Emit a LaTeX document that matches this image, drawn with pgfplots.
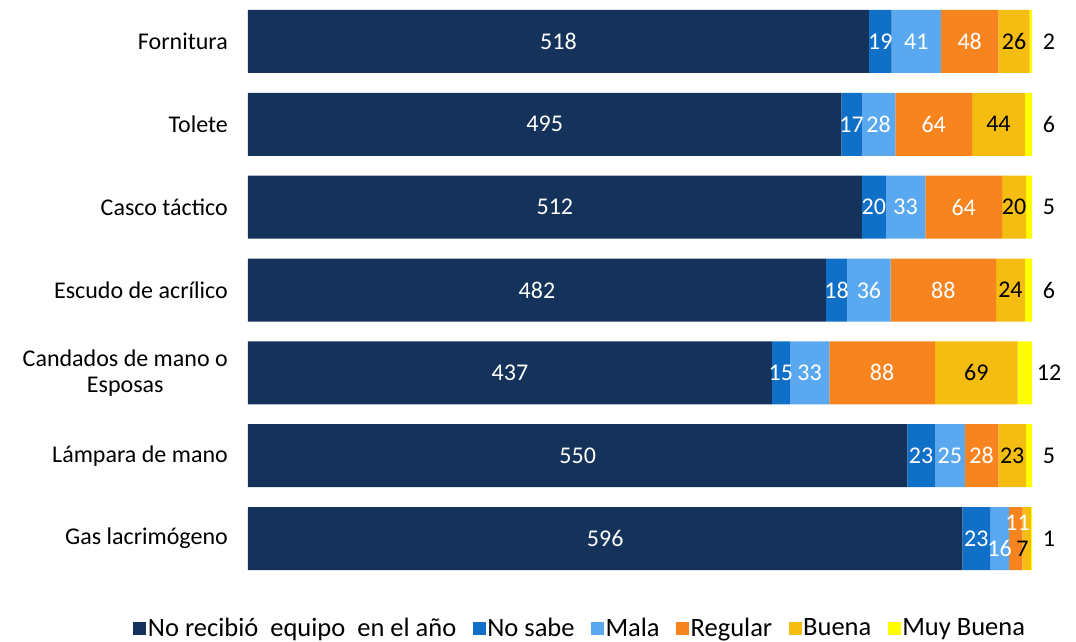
\documentclass[border=0pt]{standalone}
\usepackage{fontspec}
\setmainfont{Carlito}
\usepackage{pgfplots}
\usepackage{pgfplotstable}
\pgfplotsset{compat=1.18}
\definecolor{cA}{HTML}{15325A}
\definecolor{cB}{HTML}{1070C8}
\definecolor{cC}{HTML}{5AA9F0}
\definecolor{cD}{HTML}{F8841F}
\definecolor{cE}{HTML}{F5BC12}
\definecolor{cF}{HTML}{FFFF00}
\pgfplotsset{
  common/.style={
    scale only axis, width=784pt, height=580pt,
    at={(0pt,0pt)}, anchor=south west,
    xmin=0, xmax=654, ymin=-0.5, ymax=6.5, y dir=reverse,
    enlargelimits=false, clip=false,
  },
  lab/.style={draw=none, mark=none, nodes near coords,
    point meta=explicit symbolic,
    visualization depends on={\thisrow{dy} \as \dy},
    every node near coord/.append style={anchor=center, yshift=\dy pt, inner sep=0pt}},
}
\pgfplotstableread{
y x v dy
0 259 518 0
1 247.5 495 0
2 256 512 0
3 241 482 0
4 218.5 437 0
5 275 550 0
6 298 596 0
}\labA
\pgfplotstableread{
y x v dy
0 527.5 19 0
1 503.5 17 0
2 522 20 0
3 491 18 0
4 444.5 15 0
5 561.5 23 0
6 607.5 23 0
}\labB
\pgfplotstableread{
y x v dy
0 557.5 41 0
1 526 28 0
2 548.5 33 0
3 518 36 0
4 468.5 33 0
5 585.5 25 0
6 627 16 -10
}\labC
\pgfplotstableread{
y x v dy
0 602 48 0
1 572 64 0
2 597 64 0
3 580 88 0
4 529 88 0
5 612 28 0
6 642 11 16
}\labD
\pgfplotstableread{
y x v dy
0 639 26 0
1 626 44 0
2 639 20 0
3 636 24 0
4 607.5 69 0
5 637.5 23 0
6 646 7 -10
}\labE
\pgfplotstableread{
y x v dy
0 654 2 0
1 654 6 0
2 654 5 0
3 654 6 0
4 654 12 0
5 654 5 0
6 654 1 0
}\labF
\begin{document}
\begin{tikzpicture}[font=\fontsize{24}{26}\selectfont]
\path[use as bounding box] (-248pt,-62pt) rectangle (828pt,580pt);
\begin{axis}[common,
  xbar stacked, bar width=63pt,
  every axis plot post/.append style={legend image code/.code={\fill[##1] (0pt,-7pt) rectangle (13pt,6pt);}},
  axis line style={draw=none}, tick style={draw=none},
  xtick=\empty, ytick={0,...,6},
  yticklabels={Fornitura, Tolete, Casco táctico, Escudo de acrílico, {Candados de mano o\\Esposas}, Lámpara de mano, Gas lacrimógeno},
  yticklabel style={align=center, inner sep=0pt, xshift=-20pt},
  legend columns=6,
  legend style={draw=none, at={(0.4235,-0.083)}, anchor=center, inner sep=0pt,
    font=\fontsize{26.5}{28}\selectfont,
    /tikz/every even column/.append style={column sep=15pt},
    nodes={inner sep=1.5pt}},
  legend cell align=left,
]
\addplot[fill=cA, draw=none] coordinates {(518,0) (495,1) (512,2) (482,3) (437,4) (550,5) (596,6)};
\addplot[fill=cB, draw=none] coordinates {(19,0) (17,1) (20,2) (18,3) (15,4) (23,5) (23,6)};
\addplot[fill=cC, draw=none] coordinates {(41,0) (28,1) (33,2) (36,3) (33,4) (25,5) (16,6)};
\addplot[fill=cD, draw=none] coordinates {(48,0) (64,1) (64,2) (88,3) (88,4) (28,5) (11,6)};
\addplot[fill=cE, draw=none] coordinates {(26,0) (44,1) (20,2) (24,3) (69,4) (23,5) (7,6)};
\addplot[fill=cF, draw=none] coordinates {(2,0) (6,1) (5,2) (6,3) (12,4) (5,5) (1,6)};
\legend{No recibió\ \ equipo\ \ en el año, No sabe, Mala, Regular, Buena, Muy Buena}
\end{axis}
\begin{axis}[common, hide axis]
\addplot[lab, every node near coord/.append style={text=white}] table[x=x,y=y,meta=v] {\labA};
\addplot[lab, every node near coord/.append style={text=white}] table[x=x,y=y,meta=v] {\labB};
\addplot[lab, every node near coord/.append style={text=white}] table[x=x,y=y,meta=v] {\labC};
\addplot[lab, every node near coord/.append style={text=white}] table[x=x,y=y,meta=v] {\labD};
\addplot[lab, every node near coord/.append style={text=black}] table[x=x,y=y,meta=v] {\labE};
\addplot[lab, every node near coord/.append style={text=black, xshift=17pt}] table[x=x,y=y,meta=v] {\labF};
\end{axis}
\end{tikzpicture}
\end{document}
